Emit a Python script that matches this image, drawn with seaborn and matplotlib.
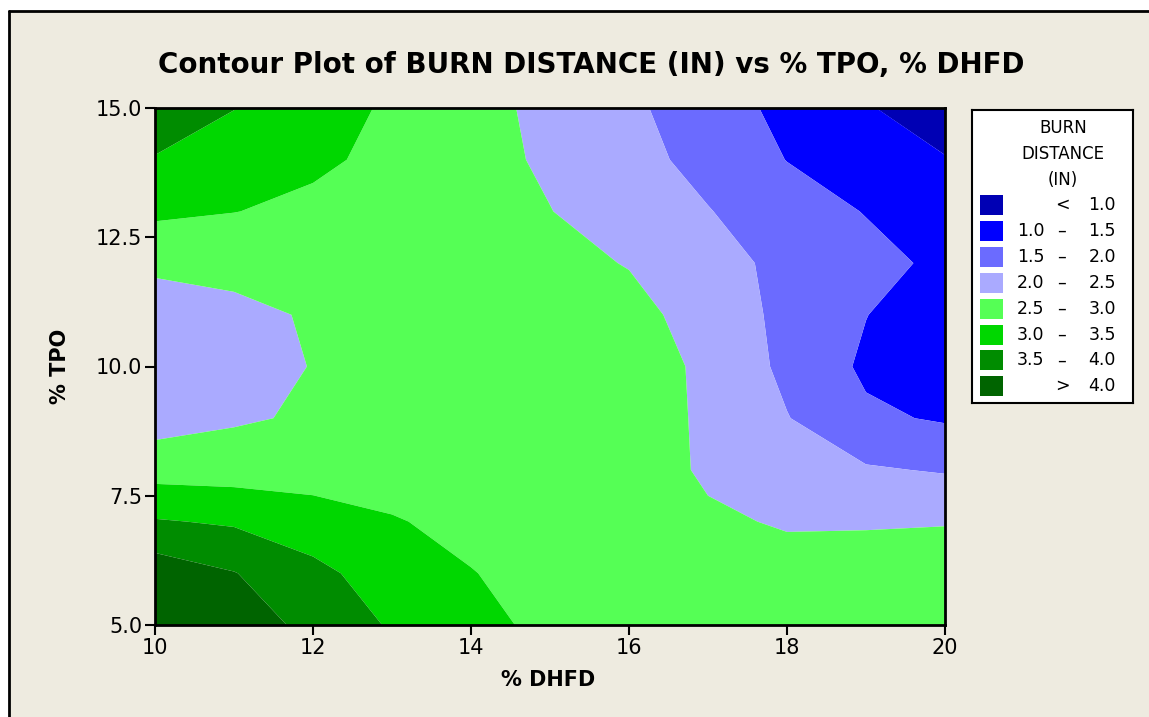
import numpy as np
import matplotlib
matplotlib.use("Agg")
import matplotlib.pyplot as plt
from matplotlib.patches import Rectangle
from matplotlib.lines import Line2D
import seaborn as sns

# ---------------- data ----------------
dhfd = [10, 11, 12, 13, 14, 15, 16, 17, 18, 19, 20]          # % DHFD (x)
tpo = [5, 6, 7, 8, 9, 10, 11, 12, 13, 14, 15]               # % TPO (y)

# estimated BURN DISTANCE (IN) on the grid, one list per % TPO row
burn_tpo_5 = [4.55, 4.30, 3.85, 3.45, 3.15, 2.88, 2.75, 2.70, 2.68, 2.66, 2.65]
burn_tpo_6 = [4.30, 4.02, 3.62, 3.28, 3.02, 2.80, 2.70, 2.65, 2.62, 2.60, 2.60]
burn_tpo_7 = [3.54, 3.44, 3.25, 3.04, 2.85, 2.72, 2.62, 2.55, 2.47, 2.48, 2.49]
burn_tpo_8 = [2.80, 2.78, 2.76, 2.75, 2.75, 2.73, 2.68, 2.45, 2.18, 2.05, 1.96]
burn_tpo_9 = [2.28, 2.44, 2.56, 2.64, 2.70, 2.72, 2.68, 2.44, 2.02, 1.58, 1.45]
burn_tpo_10 = [2.25, 2.38, 2.51, 2.62, 2.68, 2.70, 2.65, 2.44, 1.88, 1.42, 1.15]
burn_tpo_11 = [2.30, 2.42, 2.53, 2.65, 2.70, 2.66, 2.63, 2.33, 1.86, 1.51, 1.20]
burn_tpo_12 = [2.58, 2.60, 2.70, 2.73, 2.70, 2.62, 2.48, 2.16, 1.89, 1.65, 1.40]
burn_tpo_13 = [3.10, 3.01, 2.89, 2.76, 2.64, 2.51, 2.27, 2.02, 1.73, 1.48, 1.15]
burn_tpo_14 = [3.47, 3.28, 3.09, 2.88, 2.66, 2.43, 2.16, 1.85, 1.49, 1.25, 1.02]
burn_tpo_15 = [3.80, 3.51, 3.22, 2.93, 2.66, 2.38, 2.09, 1.74, 1.37, 1.03, 0.80]

levels = [1.0, 1.5, 2.0, 2.5, 3.0, 3.5, 4.0]
colors = ["#0000B4", "#0000FF", "#6B6BFF", "#AAAAFF",
          "#55FF55", "#00D700", "#008C00", "#006400"]
legend_lo = ["", "1.0", "1.5", "2.0", "2.5", "3.0", "3.5", ""]
legend_mid = ["<", "–", "–", "–", "–", "–", "–", ">"]
legend_hi = ["1.0", "1.5", "2.0", "2.5", "3.0", "3.5", "4.0", "4.0"]

x_ticks = [10, 12, 14, 16, 18, 20]
y_ticks = [5.0, 7.5, 10.0, 12.5, 15.0]

# ---------------- figure ----------------
sns.set_theme(style="white")
plt.rcParams["font.family"] = ["DejaVu Sans"]

BG = "#EEEBE0"
W, H = 1149, 717
fig = plt.figure(figsize=(W / 100, H / 100), dpi=100, facecolor="white",
                 edgecolor="none")

# beige panel with black top/left border (crop of a Minitab graph window)
fig.patches.append(Rectangle((9 / W, 0), 1.0, 1 - 11 / H,
                             transform=fig.transFigure, facecolor=BG,
                             edgecolor="none", lw=0, zorder=-10))
fig.lines.append(Line2D([9 / W, 9 / W], [0, 1 - 11 / H], transform=fig.transFigure,
                        color="black", lw=2))
fig.lines.append(Line2D([9 / W, 1.01], [1 - 11 / H, 1 - 11 / H], transform=fig.transFigure,
                        color="black", lw=2))

ax = fig.add_axes([155 / W, 1 - 625 / H, (945 - 155) / W, (625 - 108) / H])
Z = np.array([burn_tpo_5, burn_tpo_6, burn_tpo_7, burn_tpo_8, burn_tpo_9, burn_tpo_10,
              burn_tpo_11, burn_tpo_12, burn_tpo_13, burn_tpo_14, burn_tpo_15])
X, Y = np.meshgrid(dhfd, tpo)
ax.contourf(X, Y, Z, levels=[-100] + levels + [100], colors=colors, antialiased=True)

ax.set_xlim(10, 20)
ax.set_ylim(5, 15)
ax.set_xticks(x_ticks)
ax.set_xticklabels([str(v) for v in x_ticks])
ax.set_yticks(y_ticks)
ax.set_yticklabels([f"{v:.1f}" for v in y_ticks])
ax.tick_params(axis="both", direction="out", length=7, width=1.5, color="black",
               labelsize=15, labelcolor="black", pad=2,
               bottom=True, left=True, top=False, right=False)
for s in ax.spines.values():
    s.set_color("black")
    s.set_linewidth(2)

ax.set_xlabel("% DHFD", fontsize=15, fontweight="bold", color="black")
ax.set_ylabel("% TPO", fontsize=15, fontweight="bold", color="black")
ax.xaxis.set_label_coords(0.497, -0.088)
ax.yaxis.set_label_coords(-0.108, 0.5)

fig.text(591 / W, 1 - 65 / H, "Contour Plot of BURN DISTANCE (IN) vs % TPO, % DHFD",
         ha="center", va="center", fontsize=20, fontweight="bold", color="black")

# ---------------- legend box ----------------
lax = fig.add_axes([972 / W, 1 - 403 / H, (1133 - 972) / W, (403 - 110) / H])
lax.set_xlim(972, 1133)
lax.set_ylim(403, 110)
lax.set_xticks([])
lax.set_yticks([])
lax.set_facecolor("white")
for s in lax.spines.values():
    s.set_color("black")
    s.set_linewidth(1.5)

for i, line in enumerate(["BURN", "DISTANCE", "(IN)"]):
    lax.text(1063, 128 + i * 26, line, ha="center", va="center", fontsize=12, color="black")

for i, c in enumerate(colors):
    yc = 205 + i * 25.9
    lax.add_patch(Rectangle((980, yc - 10), 23, 20, facecolor=c, edgecolor="none"))
    if legend_lo[i]:
        lax.text(1017, yc, legend_lo[i], ha="left", va="center", fontsize=12.5, color="black")
    lax.text(1062, yc, legend_mid[i], ha="center", va="center", fontsize=12.5, color="black")
    lax.text(1116, yc, legend_hi[i], ha="right", va="center", fontsize=12.5, color="black")

fig.savefig("out.png", dpi=100, facecolor="white")
